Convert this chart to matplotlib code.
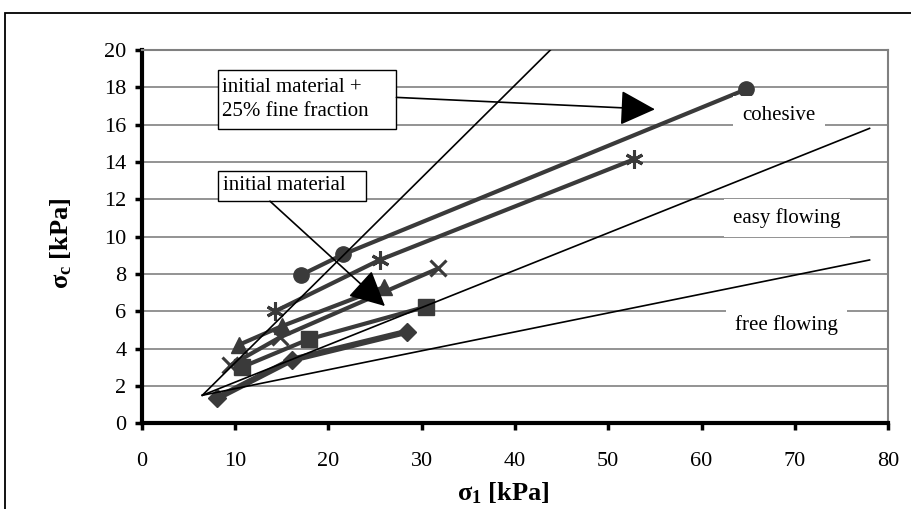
import numpy as np
import matplotlib.pyplot as plt
from matplotlib.patches import Rectangle

plt.rcParams['font.family'] = ['Liberation Serif', 'DejaVu Serif']
plt.rcParams['mathtext.fontset'] = 'custom'
plt.rcParams['mathtext.rm'] = 'Liberation Serif'
plt.rcParams['mathtext.it'] = 'Liberation Serif:italic'
plt.rcParams['mathtext.bf'] = 'Liberation Serif:bold'

# measured series: sigma_1 (x) and sigma_c (y), kPa
circ_x = [17.1, 21.6, 64.8]
circ_y = [7.95, 9.05, 17.9]
star_x = [14.3, 25.5, 52.8]
star_y = [6.0, 8.75, 14.15]
cross_x = [9.5, 14.8, 31.8]
cross_y = [3.1, 4.6, 8.3]
tri_x = [10.4, 15.0, 26.0]
tri_y = [4.2, 5.2, 7.3]
sq_x = [10.7, 17.9, 30.5]
sq_y = [3.0, 4.5, 6.25]
dia_x = [8.1, 16.1, 28.4]
dia_y = [1.35, 3.4, 4.9]

# flow function boundary lines (start, end)
ff_x = [[6.5, 43.8], [6.5, 78.0], [6.5, 78.0]]
ff_y = [[1.5, 20.0], [1.5, 15.8], [1.5, 8.75]]

xticks = np.arange(0, 81, 10)
yticks = np.arange(0, 21, 2)

fig = plt.figure(figsize=(9.11, 5.09), dpi=100)
ax = fig.add_axes([0.1555, 0.1684, 0.8195, 0.7334])

# outer frame
fig.patches.append(Rectangle((5 / 911, -0.2), 1.2, 0.9745 + 0.2, transform=fig.transFigure,
                             fill=False, edgecolor='black', lw=1.3))

for yv in yticks[1:]:
    ax.axhline(yv, color='#808080', lw=1.2, zorder=1)

gray = '#3a3a3a'
kw = dict(color=gray, lw=3, zorder=3, clip_on=False)
ax.plot(circ_x, circ_y, marker='o', ms=11, **kw)
ax.plot(star_x, star_y, marker=(6, 2, 0), ms=13, mew=2.2, mec=gray, **kw)
ax.plot(cross_x, cross_y, marker='x', ms=11, mew=2.2, mec=gray, **kw)
ax.plot(tri_x, tri_y, marker='^', ms=11, **kw)
ax.plot(sq_x, sq_y, marker='s', ms=11.5, **kw)
ax.plot(dia_x, dia_y, marker='D', ms=9.5, color=gray, lw=4.5, zorder=3)

for fx, fy in zip(ff_x, ff_y):
    ax.plot(fx, fy, color='black', lw=1.2, zorder=4)

# region labels
for tx, ty, s in [(64.4, 16.5, 'cohesive'), (63.4, 11.0, 'easy flowing'),
                  (63.6, 5.27, 'free flowing')]:
    ax.text(tx, ty, s, fontsize=15, ha='left', va='center', zorder=5,
            bbox=dict(boxstyle='square,pad=0.45', facecolor='white', edgecolor='none'))

# annotation boxes
ax.add_patch(Rectangle((8.2, 15.75), 27.3 - 8.2, 18.92 - 15.75, facecolor='white',
                       edgecolor='black', lw=1, zorder=6))
ax.text(8.6, 17.33, 'initial material +\n25% fine fraction', fontsize=15, ha='left',
        va='center', linespacing=1.35, zorder=7)
ax.add_patch(Rectangle((8.2, 11.9), 24.03 - 8.2, 13.53 - 11.9, facecolor='white',
                       edgecolor='black', lw=1, zorder=6))
ax.text(8.75, 12.72, 'initial material', fontsize=15, ha='left', va='center', zorder=7)

arrow = dict(arrowstyle='-|>,head_length=2.2,head_width=1.1', mutation_scale=10,
             color='black', lw=1.2, shrinkA=0, shrinkB=0)
ax.annotate('', xy=(55.0, 16.82), xytext=(27.3, 17.46), arrowprops=arrow, zorder=8)
ax.annotate('', xy=(26.07, 6.28), xytext=(13.75, 11.9), arrowprops=arrow, zorder=8)

ax.set_xlim(0, 80)
ax.set_ylim(0, 20)
ax.set_xticks(xticks)
ax.set_yticks(yticks)
ax.tick_params(axis='x', direction='out', length=5, width=2.5, pad=16, labelsize=16)
ax.tick_params(axis='y', direction='out', length=5, width=2.5, pad=6, labelsize=16)

for side in ['left', 'bottom']:
    ax.spines[side].set_linewidth(3)
    ax.spines[side].set_color('black')
for side in ['top', 'right']:
    ax.spines[side].set_linewidth(1.5)
    ax.spines[side].set_color('#808080')

fig.text(503 / 911, 1 - 493 / 509, r'$\mathbf{\sigma_1}$ [kPa]', fontsize=19,
         fontweight='bold', ha='center', va='center')
fig.text(61 / 911, 1 - 243 / 509, r'$\mathbf{\sigma_c}$ [kPa]', fontsize=19,
         fontweight='bold', ha='center', va='center', rotation=90)

fig.savefig('out.png', dpi=100)
